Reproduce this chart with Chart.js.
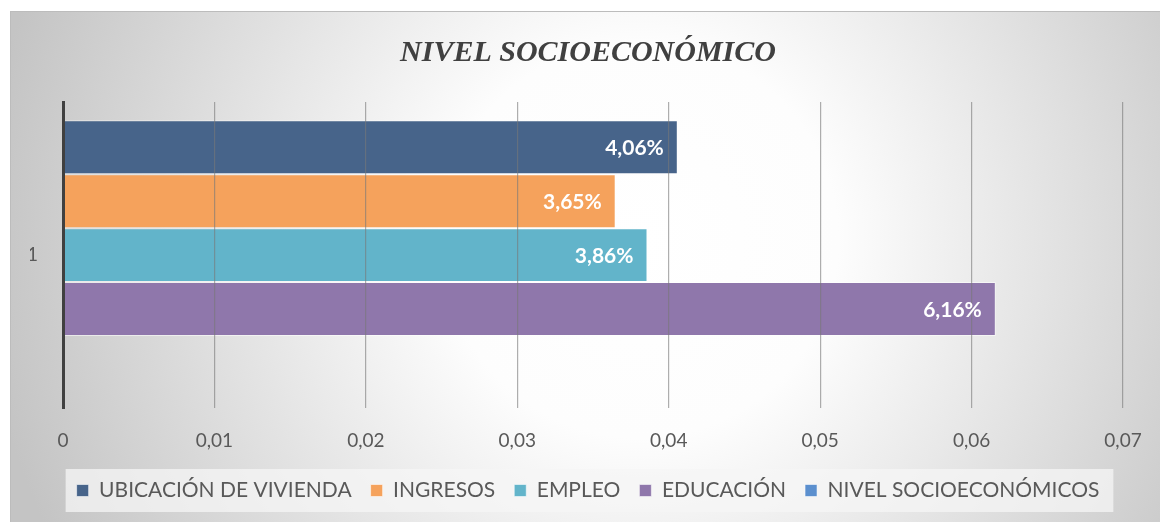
<!DOCTYPE html>
<html>
<head>
<meta charset="utf-8">
<script src="https://cdn.jsdelivr.net/npm/chart.js@4"></script>
<style>
  html, body { margin: 0; padding: 0; background: #fff; }
</style>
</head>
<body>
<canvas id="ctx" width="1160" height="522"></canvas>
<script>
const categories = ["1"];
const seriesNames = ["UBICACIÓN DE VIVIENDA", "INGRESOS", "EMPLEO", "EDUCACIÓN", "NIVEL SOCIOECONÓMICOS"];
const ubicacionVivienda = [0.0406];
const ingresos = [0.0365];
const empleo = [0.0386];
const educacion = [0.0616];
const nivelSocioeconomicos = [0];
const seriesColors = ["#47648a", "#f5a25c", "#62b4ca", "#8f77ab", "#5b8fce"];

const fmtTick = (v) => (v === 0 ? "0" : v.toFixed(2).replace(".", ","));
const fmtPct = (v) => (v * 100).toFixed(2).replace(".", ",") + "%";

// background frame, radial shading and legend panel
const backdrop = {
  id: "backdrop",
  beforeDraw(chart) {
    const { ctx, width, height, legend } = chart;
    ctx.save();
    ctx.fillStyle = "#ffffff";
    ctx.fillRect(0, 0, width, height);
    const g = ctx.createRadialGradient(640, 240, 0, 640, 240, 660);
    g.addColorStop(0, "#ffffff");
    g.addColorStop(0.3, "#fdfdfd");
    g.addColorStop(1, "#c4c4c4");
    ctx.fillStyle = g;
    ctx.fillRect(10, 11, width - 10, height - 11);
    ctx.strokeStyle = "#bcbcbc";
    ctx.lineWidth = 1;
    ctx.strokeRect(10.5, 11.5, width, height);
    const hb = legend.legendHitBoxes;
    if (hb && hb.length) {
      const l = hb[0].left - 11;
      const r = hb[hb.length - 1].left + hb[hb.length - 1].width + 14;
      const t = hb[0].top - 11;
      const b = hb[0].top + hb[0].height + 11;
      ctx.fillStyle = "rgba(246,246,246,0.75)";
      ctx.fillRect(l, t, r - l, b - t);
    }
    ctx.restore();
  },
};

// value labels inside the bar ends
const valueLabels = {
  id: "valueLabels",
  afterDraw(chart) {
    const { ctx } = chart;
    ctx.save();
    ctx.font = "bold 21px Lato";
    ctx.fillStyle = "#ffffff";
    ctx.textAlign = "right";
    ctx.textBaseline = "middle";
    chart.data.datasets.forEach((ds, i) => {
      const meta = chart.getDatasetMeta(i);
      meta.data.forEach((bar, j) => {
        const v = ds.data[j];
        if (!v) return;
        ctx.fillText(fmtPct(v), bar.x - 14, bar.y + 1);
      });
    });
    ctx.restore();
  },
};

const seriesData = [ubicacionVivienda, ingresos, empleo, educacion, nivelSocioeconomicos];

let ctx = document.getElementById("ctx");
let chart = new Chart(ctx, {
  type: "bar",
  data: {
    labels: categories,
    datasets: seriesNames.map((name, i) => ({
      label: name,
      data: seriesData[i],
      backgroundColor: seriesColors[i],
      borderColor: "rgba(255,255,255,0.55)",
      borderWidth: 1,
      barPercentage: 1,
      categoryPercentage: 0.88,
    })),
  },
  options: {
    indexAxis: "y",
    responsive: false,
    animation: false,
    devicePixelRatio: 1,
    layout: { padding: { left: 30, right: 14, top: 11, bottom: 11 } },
    scales: {
      x: {
        min: 0,
        max: 0.07,
        afterFit: (scale) => {
          scale.height -= 12;
          scale.paddingRight = 37;
        },
        ticks: {
          stepSize: 0.01,
          callback: (v) => fmtTick(v),
          color: "#595959",
          font: { family: "Lato", size: 19 },
          padding: 21,
        },
        grid: {
          color: "rgba(120,120,120,0.6)",
          lineWidth: 1.2,
          drawTicks: false,
          z: 1,
        },
        border: { display: false },
      },
      y: {
        afterFit: (scale) => {
          scale.width = 33;
        },
        ticks: {
          color: "#595959",
          font: { family: "Lato", size: 19 },
          padding: 25,
        },
        grid: { display: false, drawTicks: false },
        border: { display: true, color: "#404040", width: 3, z: 1 },
      },
    },
    plugins: {
      title: {
        display: true,
        text: "NIVEL SOCIOECONÓMICO",
        color: "#404040",
        font: { family: '"Liberation Serif", "DejaVu Serif", serif', size: 30, weight: "bold", style: "italic" },
        padding: { top: 24, bottom: 31 },
      },
      legend: {
        position: "bottom",
        labels: {
          color: "#595959",
          font: { family: "Lato", size: 21 },
          boxWidth: 12,
          boxHeight: 12,
          padding: 19,
        },
      },
      tooltip: { enabled: false },
    },
  },
  plugins: [backdrop, valueLabels],
});
</script>
</body>
</html>
